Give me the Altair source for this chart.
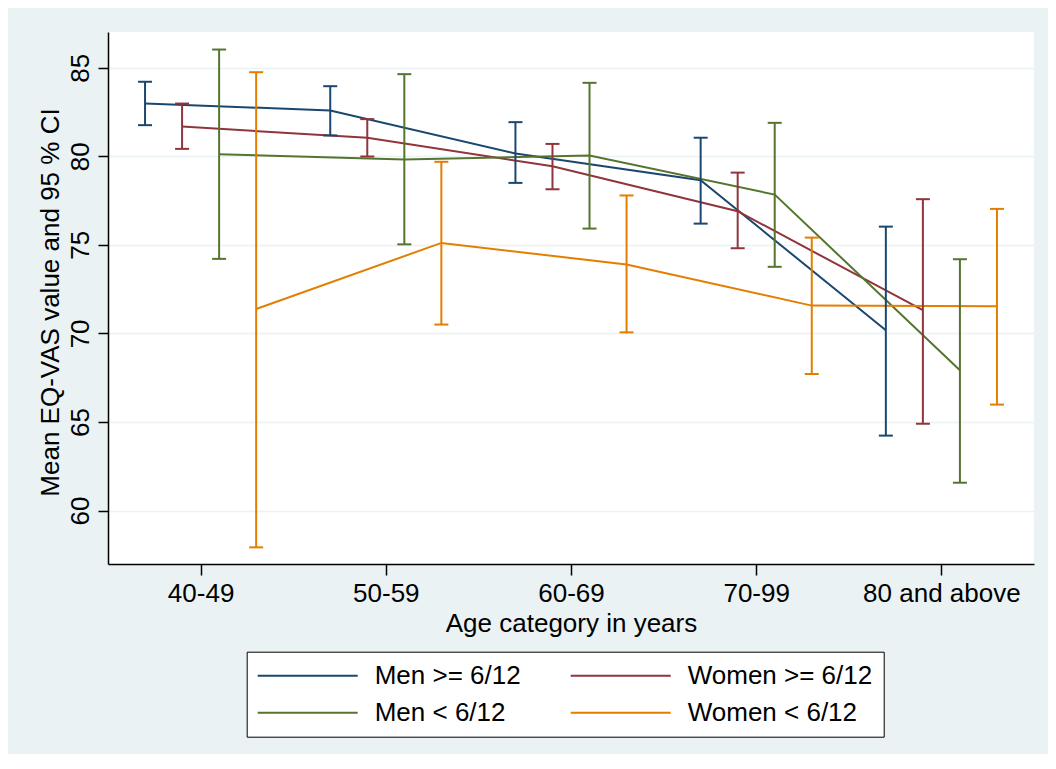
import json
import altair as alt
import pandas as pd

# ---------------- data ----------------
categories = ["40-49", "50-59", "60-69", "70-99", "80 and above"]
series_names = ["Men >= 6/12", "Women >= 6/12", "Men < 6/12", "Women < 6/12"]

men_ge_mean = [82.98, 82.59, 80.16, 78.65, 70.18]
men_ge_lo = [81.76, 81.18, 78.50, 76.20, 64.23]
men_ge_hi = [84.21, 83.96, 81.93, 81.05, 76.03]

women_ge_mean = [81.68, 81.05, 79.44, 76.90, 71.31]
women_ge_lo = [80.42, 79.99, 78.14, 74.81, 64.90]
women_ge_hi = [82.98, 82.10, 80.70, 79.08, 77.58]

men_lt_mean = [80.12, 79.82, 80.04, 77.84, 67.92]
men_lt_lo = [74.21, 75.03, 75.92, 73.76, 61.57]
men_lt_hi = [86.03, 84.64, 84.15, 81.89, 74.19]

women_lt_mean = [71.38, 75.11, 73.89, 71.57, 71.53]
women_lt_lo = [57.92, 70.50, 70.06, 67.71, 65.98]
women_lt_hi = [84.75, 79.69, 77.79, 75.41, 77.03]

y_ticks = [60, 65, 70, 75, 80, 85]

# ---------------- styles ----------------
colors = ["#1a476f", "#90353b", "#55752f", "#e37e00"]
dodge = {"Men >= 6/12": -0.3, "Women >= 6/12": -0.1,
         "Men < 6/12": 0.1, "Women < 6/12": 0.3}
FONT = "Liberation Sans"
BG = "#eaf2f3"

series_data = {
    "Men >= 6/12": (men_ge_mean, men_ge_lo, men_ge_hi),
    "Women >= 6/12": (women_ge_mean, women_ge_lo, women_ge_hi),
    "Men < 6/12": (men_lt_mean, men_lt_lo, men_lt_hi),
    "Women < 6/12": (women_lt_mean, women_lt_lo, women_lt_hi),
}

rows = []
for s in series_names:
    m, lo, hi = series_data[s]
    for j, c in enumerate(categories):
        rows.append({"series": s, "cat": c, "x": j + dodge[s],
                     "mean": m[j], "lo": lo[j], "hi": hi[j]})
df = pd.DataFrame(rows)

label_expr = json.dumps(categories) + "[datum.value]"

x_enc = alt.X(
    "x:Q",
    scale=alt.Scale(domain=[-0.5, 4.5], nice=False, zero=False),
    axis=alt.Axis(
        values=[0, 1, 2, 3, 4], labelExpr=label_expr, grid=False,
        tickSize=11, tickColor="black", tickWidth=1.5,
        domainColor="black", domainWidth=1.5,
        labelFont=FONT, labelFontSize=26, labelColor="black",
        labelBaseline="alphabetic", labelPadding=26.7, labelFlush=False,
        labelOverlap=False,
        title="Age category in years", titleFont=FONT, titleFontSize=26,
        titleFontWeight="normal", titleColor="black",
        titleY=67, titleBaseline="alphabetic",
    ),
)

y_scale = alt.Scale(domain=[56.98, 87.02], nice=False, zero=False)
y_axis = alt.Axis(
    values=y_ticks, grid=True, gridColor=BG, gridWidth=1.5,
    tickSize=10, tickColor="black", tickWidth=1.5,
    domainColor="black", domainWidth=1.5,
    labelFont=FONT, labelFontSize=26, labelColor="black",
    labelAngle=270, labelAlign="center", labelBaseline="alphabetic",
    labelPadding=9.7,
    title="Mean EQ-VAS value and 95 % CI", titleFont=FONT, titleFontSize=26,
    titleFontWeight="normal", titleColor="black",
    titleAngle=270, titleX=-50, titleY=270, titleAlign="center",
    titleBaseline="alphabetic",
)

color_scale = alt.Scale(domain=series_names, range=colors)
legend = alt.Legend(
    title=None, orient="none", legendX=138.7, legendY=619.7,
    direction="horizontal",
    columns=2, symbolType="M-5,0H5", symbolSize=400, symbolStrokeWidth=2,
    symbolOffset=37, labelOffset=54, labelFont=FONT, labelFontSize=26,
    labelColor="black", labelLimit=400, padding=11, rowPadding=11,
    columnPadding=46, fillColor="white", strokeColor="black",
)
color_enc = alt.Color("series:N", scale=color_scale, sort=series_names, legend=legend)

base = alt.Chart(df)

lines = base.mark_line(strokeWidth=2).encode(
    x=x_enc,
    y=alt.Y("mean:Q", scale=y_scale, axis=y_axis),
    color=color_enc,
    detail="series:N",
    order="x:Q",
)

rules = base.mark_rule(strokeWidth=2).encode(
    x=x_enc,
    y=alt.Y("lo:Q", scale=y_scale, axis=y_axis),
    y2="hi:Q",
    color=color_enc,
)

caps_lo = base.mark_tick(orient="horizontal", size=14, thickness=2, opacity=1).encode(
    x=x_enc,
    y=alt.Y("lo:Q", scale=y_scale, axis=y_axis),
    color=color_enc,
)

caps_hi = base.mark_tick(orient="horizontal", size=14, thickness=2, opacity=1).encode(
    x=x_enc,
    y=alt.Y("hi:Q", scale=y_scale, axis=y_axis),
    color=color_enc,
)

chart = alt.layer(lines, rules, caps_lo, caps_hi).properties(
    width=926,
    height=532,
    autosize=alt.AutoSizeParams(type="none"),
    padding={"left": 100, "top": 24, "right": 14, "bottom": 190},
    background=BG,
).configure_view(fill="white", strokeWidth=0)

chart.save("out.html", embed_options={"renderer": "svg", "actions": False})
